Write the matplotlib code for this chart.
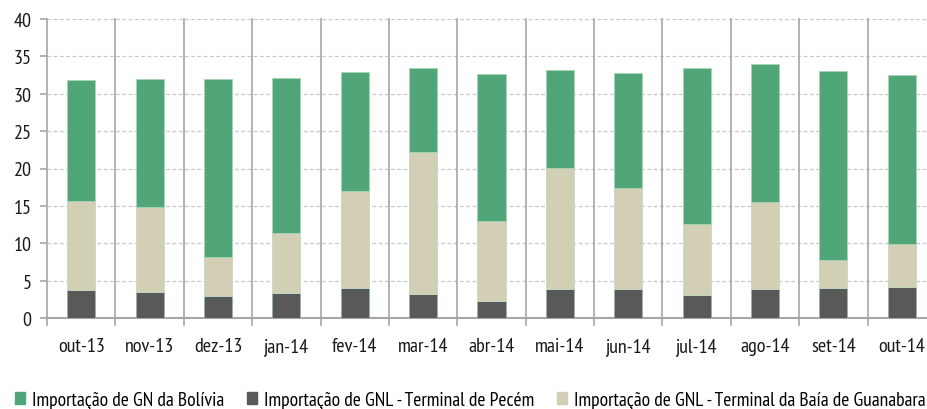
import numpy as np
import matplotlib.pyplot as plt
from matplotlib.patches import Patch

meses = ['out-13', 'nov-13', 'dez-13', 'jan-14', 'fev-14', 'mar-14', 'abr-14',
         'mai-14', 'jun-14', 'jul-14', 'ago-14', 'set-14', 'out-14']

# valores (milhoes m3/dia)
pecem = [3.8, 3.5, 3.0, 3.35, 4.05, 3.25, 2.25, 3.85, 3.85, 3.1, 3.85, 3.95, 4.1]
guanabara = [11.9, 11.3, 5.1, 8.05, 12.95, 19.0, 10.75, 16.25, 13.55, 9.45, 11.7, 3.85, 5.85]
bolivia = [16.2, 17.2, 23.9, 20.7, 15.9, 11.15, 19.6, 13.1, 15.4, 20.95, 18.4, 25.2, 22.55]

verde = '#50a679'
cinza = '#595959'
bege = '#d3cfb5'

plt.rcParams['font.family'] = ['PT Sans Narrow', 'DejaVu Sans']

fig = plt.figure(figsize=(9.27, 4.10), dpi=100)
ax = fig.add_axes([47 / 927, 1 - 319 / 410, 889 / 927, 299 / 410])

x = np.arange(len(meses))
w = 0.41
b1 = np.array(pecem)
b2 = b1 + np.array(guanabara)
ax.bar(x, pecem, w, color=cinza, edgecolor='#8fb89c', linewidth=0.6, zorder=3)
ax.bar(x, guanabara, w, bottom=b1, color=bege, edgecolor='#c2d9c4', linewidth=0.6, zorder=3)
ax.bar(x, bolivia, w, bottom=b2, color=verde, edgecolor='#a8d5b5', linewidth=0.6, zorder=3)

ax.set_xlim(-0.5, len(meses) - 0.5)
ax.set_ylim(0, 40)
ax.set_yticks(range(0, 41, 5))
ax.set_xticks(x)
ax.set_xticklabels(meses)

# grade horizontal tracejada
for v in range(5, 41, 5):
    ax.axhline(v, color='#c8c8c8', lw=0.9, ls=(0, (3, 2)), zorder=1)
# separadores verticais
for xb in np.arange(-0.5, len(meses), 1.0):
    ax.plot([xb, xb], [-0.95, 40], color='#a6a6a6', lw=1.2, zorder=2, clip_on=False)

for s in ['top', 'right', 'left']:
    ax.spines[s].set_visible(False)
ax.spines['bottom'].set_color('#a6a6a6')
ax.spines['bottom'].set_linewidth(1.5)
ax.tick_params(axis='x', length=0, pad=14, labelsize=14.5, colors='#1a1a1a')
ax.tick_params(axis='y', length=5, color='#a6a6a6', width=1.2, labelsize=14.5, colors='#1a1a1a', pad=6)

handles = [Patch(color=verde, label='Importação de GN da Bolívia'),
           Patch(color=cinza, label='Importação de GNL - Terminal de Pecém'),
           Patch(color=bege, label='Importação de GNL - Terminal da Baía de Guanabara')]
fig.legend(handles=handles, loc='lower left', bbox_to_anchor=(-3 / 927, -0.042), ncol=3,
           frameon=False, fontsize=14.0, handlelength=0.55, handleheight=0.55,
           handletextpad=0.35, columnspacing=1.15)

fig.savefig('out.png', dpi=100)
